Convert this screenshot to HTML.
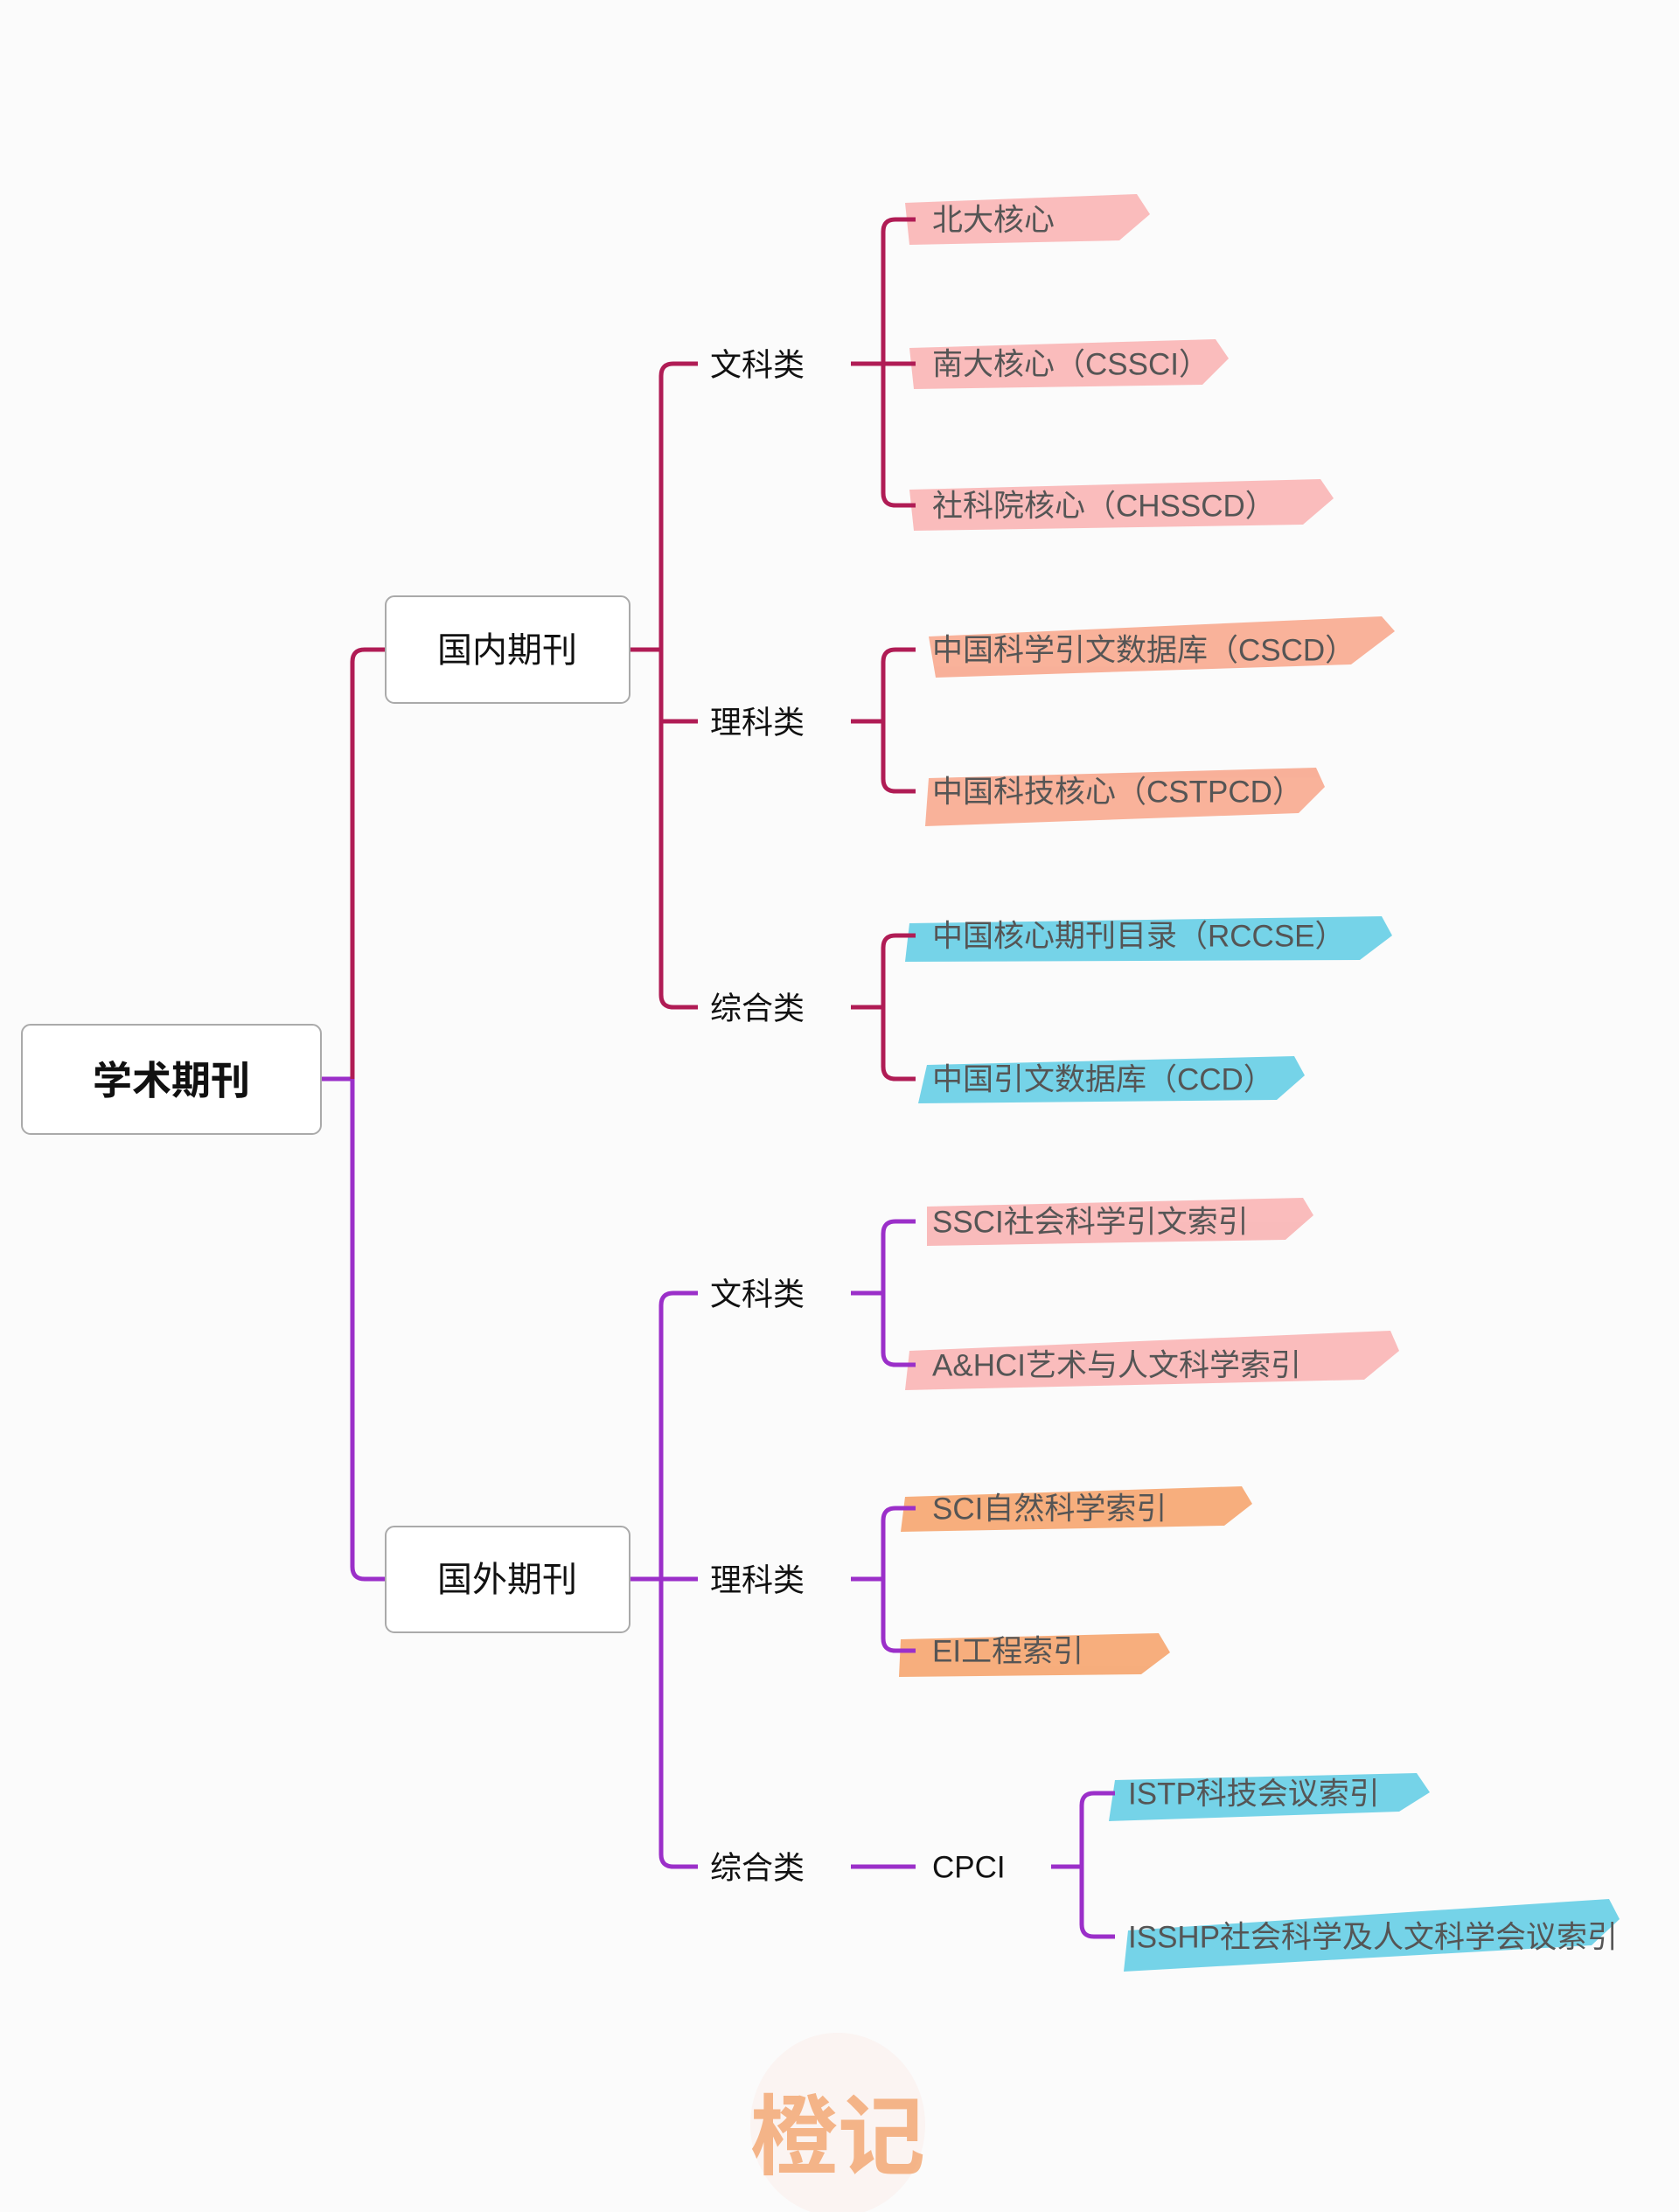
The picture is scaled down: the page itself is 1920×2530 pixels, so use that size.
<!DOCTYPE html>
<html><head><meta charset="utf-8"><style>
html,body{margin:0;padding:0;background:#fbfbfb;}
svg{display:block}
text{font-family:"Liberation Sans","Noto Sans CJK SC",sans-serif;}
</style></head><body>
<svg width="1920" height="2530" viewBox="0 0 1920 2530" xmlns="http://www.w3.org/2000/svg">
<rect width="1920" height="2530" fill="#fbfbfb"/>
<g opacity="0.85">
<path d="M1035 232 L1300 222 L1315 245 L1280 275 L1040 280 Z" fill="#f9b0b0"/>
<path d="M1040 398 L1390 388 L1405 410 L1375 440 L1045 445 Z" fill="#f9b0b0"/>
<path d="M1040 560 L1510 548 L1525 570 L1490 600 L1045 607 Z" fill="#f9b0b0"/>
<path d="M1062 728 L1580 705 L1595 722 L1545 760 L1070 775 Z" fill="#f8a488"/>
<path d="M1062 890 L1505 878 L1515 900 L1485 930 L1058 945 Z" fill="#f8a488"/>
<path d="M1040 1056 L1580 1048 L1592 1070 L1555 1098 L1035 1100 Z" fill="#5dcbe4"/>
<path d="M1060 1218 L1480 1208 L1492 1230 L1460 1258 L1050 1262 Z" fill="#5dcbe4"/>
<path d="M1060 1380 L1490 1370 L1502 1390 L1470 1418 L1060 1425 Z" fill="#f9b0b0"/>
<path d="M1040 1545 L1590 1522 L1600 1545 L1560 1578 L1035 1590 Z" fill="#f9b0b0"/>
<path d="M1035 1712 L1420 1700 L1432 1720 L1400 1745 L1030 1752 Z" fill="#f6a066"/>
<path d="M1030 1875 L1325 1868 L1338 1890 L1305 1915 L1028 1918 Z" fill="#f6a066"/>
<path d="M1275 2036 L1620 2028 L1635 2050 L1600 2072 L1268 2083 Z" fill="#5dcbe4"/>
<path d="M1290 2208 L1840 2172 L1852 2195 L1820 2225 L1285 2255 Z" fill="#5dcbe4"/>
</g>
<g fill="none" stroke-width="5" stroke-linejoin="round">
<path d="M367 1234 H403" stroke="#9b2fc9"/>
<path d="M403 1234 V757 Q403 743 417 743 H440" stroke="#b01c55"/>
<path d="M403 1234 V1792 Q403 1806 417 1806 H440" stroke="#9b2fc9"/>
<g stroke="#b01c55">
<path d="M720 743 H756"/>
<path d="M798 416 H770 Q756 416 756 430 V1138 Q756 1152 770 1152 H798"/>
<path d="M756 825 H798"/>
<path d="M973 416 H1047"/>
<path d="M1047 251 H1024 Q1010 251 1010 265 V564 Q1010 578 1024 578 H1047"/>
<path d="M973 825 H1010"/>
<path d="M1047 743 H1024 Q1010 743 1010 757 V891 Q1010 905 1024 905 H1047"/>
<path d="M973 1152 H1010"/>
<path d="M1047 1070 H1024 Q1010 1070 1010 1084 V1220 Q1010 1234 1024 1234 H1047"/>
</g>
<g stroke="#9b2fc9">
<path d="M720 1806 H798"/>
<path d="M798 1479 H770 Q756 1479 756 1493 V2121 Q756 2135 770 2135 H798"/>
<path d="M973 1479 H1010"/>
<path d="M1047 1397 H1024 Q1010 1397 1010 1411 V1547 Q1010 1561 1024 1561 H1047"/>
<path d="M973 1806 H1010"/>
<path d="M1047 1725 H1024 Q1010 1725 1010 1739 V1874 Q1010 1888 1024 1888 H1047"/>
<path d="M973 2135 H1047"/>
<path d="M1202 2135 H1237"/>
<path d="M1275 2051 H1251 Q1237 2051 1237 2065 V2201 Q1237 2215 1251 2215 H1275"/>
</g>
</g>
<rect x="25" y="1172" width="342" height="125" rx="10" fill="#fff" stroke="#aaa" stroke-width="2"/>
<rect x="441" y="682" width="279" height="122" rx="10" fill="#fff" stroke="#aaa" stroke-width="2"/>
<rect x="441" y="1746" width="279" height="121" rx="10" fill="#fff" stroke="#aaa" stroke-width="2"/>
<g fill="#111" dominant-baseline="central">
<text x="196" y="1236" font-size="45" font-weight="bold" text-anchor="middle">学术期刊</text>
<text x="580" y="744" font-size="40" text-anchor="middle">国内期刊</text>
<text x="580" y="1807" font-size="40" text-anchor="middle">国外期刊</text>
<g font-size="36">
<text x="812" y="417">文科类</text>
<text x="812" y="826">理科类</text>
<text x="812" y="1153">综合类</text>
<text x="812" y="1480">文科类</text>
<text x="812" y="1807">理科类</text>
<text x="812" y="2136">综合类</text>
<text x="1066" y="2136" font-size="35">CPCI</text>
</g>
</g>
<g fill="#555" font-size="35" dominant-baseline="central">
<text x="1066" y="252">北大核心</text>
<text x="1066" y="417">南大核心（CSSCI）</text>
<text x="1066" y="579">社科院核心（CHSSCD）</text>
<text x="1066" y="744">中国科学引文数据库（CSCD）</text>
<text x="1066" y="906">中国科技核心（CSTPCD）</text>
<text x="1066" y="1071">中国核心期刊目录（RCCSE）</text>
<text x="1066" y="1235">中国引文数据库（CCD）</text>
<text x="1066" y="1398">SSCI社会科学引文索引</text>
<text x="1066" y="1562">A&amp;HCI艺术与人文科学索引</text>
<text x="1066" y="1726">SCI自然科学索引</text>
<text x="1066" y="1889">EI工程索引</text>
<text x="1290" y="2052">ISTP科技会议索引</text>
<text x="1290" y="2216">ISSHP社会科学及人文科学会议索引</text>
</g>
<ellipse cx="958" cy="2430" rx="100" ry="105" fill="#fbeee9" opacity="0.5"/>
<text x="958" y="2445" font-size="100" font-weight="bold" fill="#f3a56e" opacity="0.8" text-anchor="middle" dominant-baseline="central" font-family="'Noto Sans CJK SC',sans-serif">橙记</text>
</svg>
</body></html>
